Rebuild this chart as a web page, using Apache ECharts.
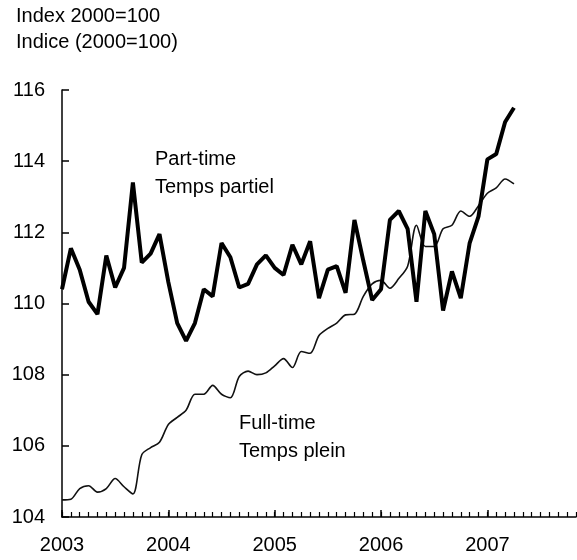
<!DOCTYPE html>
<html>
<head>
<meta charset="utf-8">
<script src="https://cdn.jsdelivr.net/npm/echarts@6/dist/echarts.min.js"></script>
<style>
  html, body { margin: 0; padding: 0; background: #fff; }
  #main { width: 577px; height: 560px; }
</style>
</head>
<body>
<div id="main"></div>
<script>
// years shown on the axis (monthly categories Jan 2003 .. Nov 2007)
const years = ['2003', '2004', '2005', '2006', '2007']
const monthsShown = 59

// part-time index, Jan 2003 .. Apr 2007
const partTime = [
  110.4, 111.55, 110.95, 110.05, 109.7, 111.35, 110.45, 111.0, 113.4, 111.15, 111.4, 111.95,
  110.6, 109.45, 108.95, 109.45, 110.4, 110.2, 111.7, 111.3, 110.45, 110.55, 111.1, 111.35,
  111.0, 110.8, 111.65, 111.1, 111.75, 110.15, 110.95, 111.05, 110.3, 112.35, 111.2, 110.1,
  110.4, 112.35, 112.6, 112.1, 110.05, 112.6, 111.95, 109.8, 110.9, 110.15, 111.7, 112.45,
  114.05, 114.2, 115.1, 115.5
]

// full-time index, Jan 2003 .. Apr 2007
const fullTime = [
  104.48, 104.5, 104.8, 104.88, 104.7, 104.8, 105.08, 104.85, 104.65, 105.75, 105.95, 106.1,
  106.6, 106.8, 107.0, 107.45, 107.45, 107.7, 107.45, 107.35, 107.95, 108.1, 108.0, 108.05,
  108.25, 108.45, 108.2, 108.65, 108.6, 109.1, 109.3, 109.45, 109.68, 109.7, 110.2, 110.55,
  110.65, 110.43, 110.7, 111.05, 112.2, 111.6, 111.6, 112.1, 112.2, 112.6, 112.45, 112.75,
  113.1, 113.25, 113.5, 113.36
]

// month categories built from the year list
const months = []
for (let i = 0; i < monthsShown; i++) {
  const y = Number(years[0]) + Math.floor(i / 12)
  const m = (i % 12) + 1
  months.push(y + '-' + (m < 10 ? '0' + m : m))
}

const font = '"Liberation Sans", Arial, sans-serif'
const chart = echarts.init(document.getElementById('main'))

chart.setOption({
  animation: false,
  backgroundColor: '#fff',
  textStyle: { fontFamily: font },
  title: {
    text: 'Index 2000=100\nIndice (2000=100)',
    left: 11,
    top: -2,
    textStyle: { fontFamily: font, fontSize: 20, fontWeight: 'normal', color: '#000', lineHeight: 26 }
  },
  grid: { left: 62, right: 1, top: 90, bottom: 43, containLabel: false },
  xAxis: [
    {
      type: 'category',
      data: months,
      boundaryGap: false,
      position: 'bottom',
      axisLine: { show: true, lineStyle: { color: '#000', width: 1.5 } },
      axisTick: {
        show: true, inside: true, length: 7,
        interval: (idx) => idx % 12 === 0,
        lineStyle: { color: '#000', width: 1.5 }
      },
      axisLabel: {
        interval: (idx) => idx % 12 === 0,
        formatter: (v) => v.slice(0, 4),
        color: '#000', fontSize: 20, fontFamily: font, margin: 18
      },
      splitLine: { show: false }
    },
    {
      type: 'category',
      data: months,
      boundaryGap: false,
      position: 'bottom',
      axisLine: { show: false },
      axisTick: { show: true, inside: true, length: 5, interval: 0, lineStyle: { color: '#000', width: 1.2 } },
      axisLabel: { show: false },
      splitLine: { show: false }
    }
  ],
  yAxis: {
    type: 'value',
    min: 104,
    max: 116,
    interval: 2,
    axisLine: { show: true, lineStyle: { color: '#000', width: 1.5 } },
    axisTick: { show: true, inside: true, length: 7, lineStyle: { color: '#000', width: 1.5 } },
    axisLabel: { color: '#000', fontSize: 20, fontFamily: font, margin: 17 },
    splitLine: { show: false }
  },
  graphic: [
    { type: 'text', left: 155, top: 145, style: { text: 'Part-time\nTemps partiel', font: '20px ' + font, fill: '#000', lineHeight: 28 } },
    { type: 'text', left: 239, top: 409, style: { text: 'Full-time\nTemps plein', font: '20px ' + font, fill: '#000', lineHeight: 28 } }
  ],
  series: [
    {
      name: 'Full-time',
      type: 'line',
      data: fullTime,
      showSymbol: false,
      smooth: 0.3,
      lineStyle: { color: '#111', width: 1.6 }
    },
    {
      name: 'Part-time',
      type: 'line',
      data: partTime,
      showSymbol: false,
      lineStyle: { color: '#000', width: 4 }
    }
  ]
})
</script>
</body>
</html>
